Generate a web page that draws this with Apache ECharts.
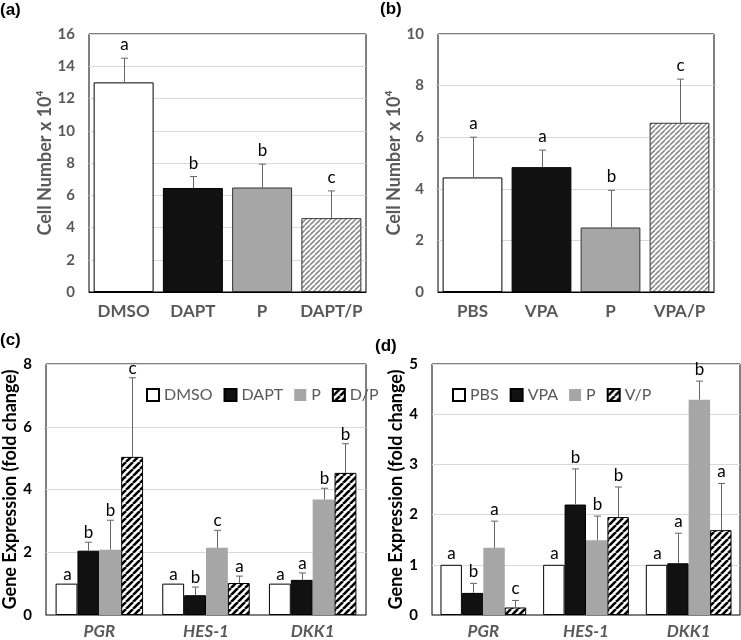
<!DOCTYPE html>
<html><head><meta charset="utf-8">
<script src="https://cdn.jsdelivr.net/npm/echarts@6/dist/echarts.min.js"></script>
<style>html,body{margin:0;padding:0;background:#fff}#c{width:741px;height:640px}</style>
</head><body><div id="c"></div>
<script>
// ---------- data ----------
const catsA = ['DMSO', 'DAPT', 'P', 'DAPT/P'];
const valsA = [13.0, 6.45, 6.48, 4.58];
const errA = [14.5, 7.16, 7.93, 6.27];
const letA = ['a', 'b', 'b', 'c'];

const catsB = ['PBS', 'VPA', 'P', 'VPA/P'];
const valsB = [4.44, 4.84, 2.5, 6.56];
const errB = [6.0, 5.5, 3.94, 8.25];
const letB = ['a', 'a', 'b', 'c'];

const genes = ['PGR', 'HES-1', 'DKK1'];

const seriesC = ['DMSO', 'DAPT', 'P', 'D/P'];
const valsC = [[1.0, 1.0, 1.0], [2.05, 0.63, 1.12], [2.08, 2.14, 3.68], [5.04, 1.02, 4.53]];
const errC = [[null, null, null], [2.32, 0.89, 1.34], [3.02, 2.7, 4.04], [7.56, 1.24, 5.46]];
const letC = [['a', 'a', 'a'], ['b', 'b', 'a'], ['b', 'c', 'b'], ['c', 'a', 'b']];

const seriesD = ['PBS', 'VPA', 'P', 'V/P'];
const valsD = [[1.0, 1.0, 1.0], [0.44, 2.2, 1.03], [1.34, 1.49, 4.29], [0.15, 1.95, 1.69]];
const errD = [[null, null, null], [0.63, 2.91, 1.63], [1.87, 1.97, 4.66], [0.29, 2.55, 2.62]];
const letD = [['a', 'a', 'a'], ['b', 'b', 'a'], ['a', 'b', 'b'], ['c', 'b', 'a']];

// ---------- styling helpers ----------
const FONT = 'Lato, "Open Sans", sans-serif';
const GRAYTXT = '#595959';

function hatch(period, lw, color) {
  const c = document.createElement('canvas');
  c.width = c.height = period;
  const g = c.getContext('2d');
  g.fillStyle = '#fff';
  g.fillRect(0, 0, period, period);
  g.strokeStyle = color;
  g.lineWidth = lw;
  g.beginPath();
  for (let k = -1; k <= 1; k++) {
    g.moveTo(k * period, period);
    g.lineTo(k * period + period, 0);
  }
  g.stroke();
  return c;
}
const hatchLight = { image: hatch(5, 1.6, '#8c8c8c'), repeat: 'repeat' };
const hatchDark = { image: hatch(7, 2.6, '#000'), repeat: 'repeat' };

const styleTop = [
  { color: '#fff', borderColor: '#000', borderWidth: 1 },
  { color: '#111', borderColor: '#000', borderWidth: 1 },
  { color: '#a6a6a6', borderColor: '#333', borderWidth: 1 },
  { color: hatchLight, borderColor: '#333', borderWidth: 1 }
];
const styleBot = [
  { color: '#fff', borderColor: '#000', borderWidth: 1 },
  { color: '#111', borderColor: '#000', borderWidth: 1 },
  { color: '#a6a6a6', borderWidth: 0 },
  { color: hatchDark, borderColor: '#000', borderWidth: 1 }
];

const grids = [
  { left: 89, top: 34, width: 277, height: 258 },
  { left: 438, top: 34, width: 276, height: 258 },
  { left: 46, top: 364, width: 320, height: 252 },
  { left: 432, top: 364, width: 308, height: 252 }
].map(g => Object.assign(g, { show: true, borderColor: '#000', borderWidth: 1, backgroundColor: 'transparent' }));

function xAx(idx, cats, italic, margin) {
  return {
    type: 'category', gridIndex: idx, data: cats,
    axisTick: { show: false },
    axisLine: { lineStyle: { color: italic ? '#7f7f7f' : '#000' } },
    axisLabel: { interval: 0, color: GRAYTXT, fontFamily: FONT, fontWeight: 'bold', fontSize: 17,
      fontStyle: italic ? 'italic' : 'normal', margin: margin }
  };
}
function yAx(idx, max, interval, name, gap, labColor) {
  return {
    type: 'value', gridIndex: idx, min: 0, max: max, interval: interval,
    name: name, nameLocation: 'middle', nameGap: gap,
    nameTextStyle: { color: labColor, fontFamily: FONT, fontWeight: 'bold', fontSize: 18 },
    axisLine: { show: false }, axisTick: { show: false },
    axisLabel: { color: labColor, fontFamily: FONT, fontWeight: 'bold', fontSize: 15, margin: 14 },
    splitLine: { lineStyle: { color: '#d9d9d9' } }
  };
}

// error bars + significance letters
function errSeries(idx, nSeries, gap, vals, errs, lets, letGap) {
  const data = [];
  const letters = [];
  for (let s = 0; s < vals.length; s++) {
    for (let c = 0; c < vals[s].length; c++) {
      const e = errs[s][c];
      data.push([c, vals[s][c], e == null ? vals[s][c] : e, s]);
      letters.push(lets[s][c]);
    }
  }
  return {
    type: 'custom', xAxisIndex: idx, yAxisIndex: idx, z: 10, silent: true,
    data: data,
    renderItem: function (params, api) {
      const cat = api.value(0), v = api.value(1), e = api.value(2), s = api.value(3);
      const bandW = api.size([1, 0])[0];
      const bw = bandW * (1 - gap) / nSeries;
      const off = (s - (nSeries - 1) / 2) * bw;
      const pTop = api.coord([cat, e]);
      const pBar = api.coord([cat, v]);
      const x = Math.round(pTop[0] + off) + 0.5;
      const children = [];
      if (e > v) {
        children.push({ type: 'line', shape: { x1: x, y1: pBar[1], x2: x, y2: pTop[1] },
          style: { stroke: '#666', lineWidth: 1 } });
        children.push({ type: 'line', shape: { x1: x - 3.5, y1: pTop[1], x2: x + 3.5, y2: pTop[1] },
          style: { stroke: '#666', lineWidth: 1 } });
      }
      children.push({ type: 'text', x: x, y: pTop[1] - letGap,
        style: { text: letters[params.dataIndex], fill: '#000', font: '17px ' + FONT,
          textAlign: 'center', textVerticalAlign: 'bottom' } });
      return { type: 'group', children: children };
    }
  };
}

const series = [];
// panel a
series.push({
  type: 'bar', name: 'cellA', xAxisIndex: 0, yAxisIndex: 0, barCategoryGap: '13.4%',
  data: valsA.map((v, i) => ({ value: v, itemStyle: styleTop[i] }))
});
series.push(errSeries(0, 1, 0.134, [valsA], [errA], [letA], 5));
// panel b
series.push({
  type: 'bar', name: 'cellB', xAxisIndex: 1, yAxisIndex: 1, barCategoryGap: '13.4%',
  data: valsB.map((v, i) => ({ value: v, itemStyle: styleTop[i] }))
});
series.push(errSeries(1, 1, 0.134, [valsB], [errB], [letB], 5));
// panel c
seriesC.forEach((n, s) => {
  series.push({ type: 'bar', name: n, xAxisIndex: 2, yAxisIndex: 2,
    barCategoryGap: '18%', barGap: '0%', itemStyle: styleBot[s], data: valsC[s] });
});
series.push(errSeries(2, 4, 0.18, valsC, errC, letC, 1));
// panel d
seriesD.forEach((n, s) => {
  series.push({ type: 'bar', name: n, xAxisIndex: 3, yAxisIndex: 3,
    barCategoryGap: '16.5%', barGap: '0%', itemStyle: styleBot[s], data: valsD[s] });
});
series.push(errSeries(3, 4, 0.165, valsD, errD, letD, 3));

const titleStyle = { fontFamily: '"Liberation Sans", Arial, sans-serif', fontWeight: 'bold', fontSize: 17, color: '#000' };
const legendBase = { orient: 'horizontal', icon: 'rect', itemWidth: 12, itemHeight: 12, itemGap: 11,
  textStyle: { color: GRAYTXT, fontFamily: FONT, fontSize: 16 }, selectedMode: false };

const option = {
  animation: false,
  backgroundColor: '#fff',
  title: [
    { text: '(a)', left: 0, top: 2, padding: 0, textStyle: titleStyle },
    { text: '(b)', left: 380, top: 1, padding: 0, textStyle: titleStyle },
    { text: '(c)', left: 0, top: 332, padding: 0, textStyle: titleStyle },
    { text: '(d)', left: 375, top: 338, padding: 0, textStyle: titleStyle }
  ],
  legend: [
    Object.assign({ data: seriesC, left: 141, top: 382 }, legendBase),
    Object.assign({ data: seriesD, left: 447, top: 382 }, legendBase)
  ],
  grid: grids,
  xAxis: [xAx(0, catsA, false, 11), xAx(1, catsB, false, 11), xAx(2, genes, true, 8), xAx(3, genes, true, 8)],
  yAxis: [
    yAx(0, 16, 2, 'Cell Number x 10\u2074', 34, GRAYTXT),
    yAx(1, 10, 2, 'Cell Number x 10\u2074', 30, GRAYTXT),
    yAx(2, 8, 2, 'Gene Expression (fold change)', 26, '#000'),
    yAx(3, 5, 1, 'Gene Expression (fold change)', 24, '#000')
  ],
  series: series
};
const chart = echarts.init(document.getElementById('c'), null, { renderer: 'canvas' });
chart.setOption(option);
</script>
</body></html>
